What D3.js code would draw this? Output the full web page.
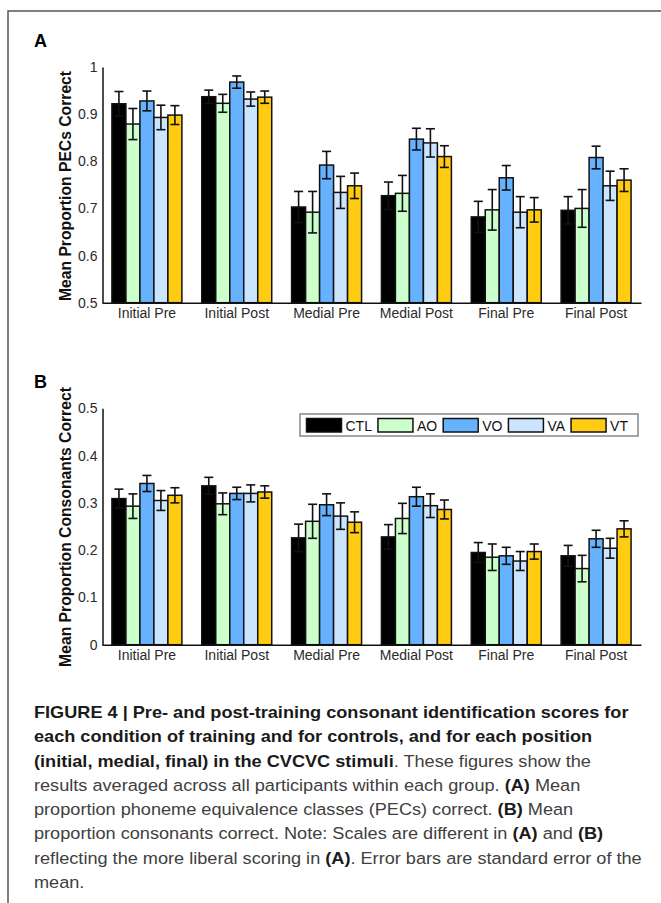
<!DOCTYPE html>
<html>
<head>
<meta charset="utf-8">
<script src="https://d3js.org/d3.v7.min.js"></script>
<style>
body{margin:0;background:#fff}
svg{display:block}
.tick text{fill:#2a2a2a}
</style>
</head>
<body>
<div id="fig"></div>
<script>
// values
var groups=["Initial Pre","Initial Post","Medial Pre","Medial Post","Final Pre","Final Post"]
var series=["CTL","AO","VO","VA","VT"]
var colors=["#000000","#ccffcc","#66b2ff","#cce5ff","#ffcc11"]

var pecMeans=[
    [0.922,0.879,0.928,0.893,0.898],
    [0.937,0.923,0.968,0.932,0.936],
    [0.703,0.692,0.792,0.734,0.748],
    [0.727,0.732,0.847,0.839,0.810],
    [0.682,0.697,0.765,0.692,0.697],
    [0.696,0.700,0.808,0.748,0.760]]
var pecErr=[
    [0.026,0.033,0.021,0.026,0.020],
    [0.014,0.019,0.013,0.015,0.013],
    [0.033,0.044,0.029,0.034,0.027],
    [0.029,0.038,0.023,0.030,0.023],
    [0.033,0.043,0.026,0.033,0.026],
    [0.029,0.040,0.024,0.031,0.024]]

var consMeans=[
    [0.309,0.293,0.341,0.305,0.316],
    [0.336,0.298,0.320,0.320,0.323],
    [0.226,0.261,0.296,0.272,0.259],
    [0.228,0.267,0.313,0.294,0.286],
    [0.195,0.185,0.188,0.177,0.197],
    [0.188,0.161,0.224,0.204,0.245]]
var consErr=[
    [0.020,0.026,0.017,0.021,0.016],
    [0.018,0.023,0.013,0.018,0.013],
    [0.029,0.036,0.023,0.028,0.022],
    [0.026,0.032,0.020,0.025,0.020],
    [0.021,0.028,0.018,0.020,0.016],
    [0.022,0.028,0.018,0.021,0.017]]

var pecTicks=[0.5,0.6,0.7,0.8,0.9,1]
var pecTickLabels=["0.5","0.6","0.7","0.8","0.9","1"]
var consTicks=[0,0.1,0.2,0.3,0.4,0.5]
var consTickLabels=["0","0.1","0.2","0.3","0.4","0.5"]

var caption=[
    [["FIGURE 4 | Pre- and post-training consonant identification scores for",1]],
    [["each condition of training and for controls, and for each position",1]],
    [["(initial, medial, final) in the CVCVC stimuli",1],[". These figures show the",0]],
    [["results averaged across all participants within each group. ",0],["(A)",1],[" Mean",0]],
    [["proportion phoneme equivalence classes (PECs) correct. ",0],["(B)",1],[" Mean",0]],
    [["proportion consonants correct. Note: Scales are different in ",0],["(A)",1],[" and ",0],["(B)",1]],
    [["reflecting the more liberal scoring in ",0],["(A)",1],[". Error bars are standard error of the",0]],
    [["mean.",0]]]

var font='"Liberation Sans", Arial, sans-serif'
var W=661, H=903

var svg=d3.select('#fig').append('svg')
    .attr('width',W)
    .attr('height',H)
    .style('font-family',font)

// frame lines
svg.append('path')
    .attr('d','M8,'+H+'V11H'+W)
    .attr('fill','none')
    .attr('stroke','#555')
    .attr('stroke-width',1.5)

function MakePanel(letter,top,bottom,domain,ticks,tickLabels,means,errs,title,titleY){
    var x=d3.scaleBand().domain(groups).range([102,641])
    var xs=d3.scaleBand().domain(series).range([0,x.bandwidth()]).paddingOuter(0.71)
    var y=d3.scaleLinear().domain(domain).range([bottom,top])

    svg.append('text')
	.attr('x',34)
	.attr('y',top-20)
	.attr('font-size',18)
	.attr('font-weight','bold')
	.text(letter)

    var g=svg.append('g')

    var rows=[]
    groups.forEach(function(grp,i){
	series.forEach(function(s,j){
	    rows.push({g:grp,s:s,v:means[i][j],e:errs[i][j],c:colors[j]})
	})
    })

    g.selectAll('rect.bar')
	.data(rows)
	.enter().append('rect')
	.attr('class','bar')
	.attr('x',function(d){return x(d.g)+xs(d.s)})
	.attr('width',xs.bandwidth())
	.attr('y',function(d){return y(d.v)})
	.attr('height',function(d){return y(domain[0])-y(d.v)})
	.attr('fill',function(d){return d.c})
	.attr('stroke','#111')
	.attr('stroke-width',1.5)

    var cap=4.5
    var eb=g.selectAll('g.err')
	.data(rows)
	.enter().append('g')
	.attr('class','err')
	.attr('stroke','#111')
	.attr('stroke-width',1.6)
    eb.append('line')
	.attr('x1',function(d){return x(d.g)+xs(d.s)+xs.bandwidth()/2})
	.attr('x2',function(d){return x(d.g)+xs(d.s)+xs.bandwidth()/2})
	.attr('y1',function(d){return y(d.v+d.e)})
	.attr('y2',function(d){return y(d.v-d.e)})
    eb.selectAll('line.cap')
	.data(function(d){return [d.v+d.e,d.v-d.e].map(function(v){return {d:d,v:v}})})
	.enter().append('line')
	.attr('class','cap')
	.attr('x1',function(c){return x(c.d.g)+xs(c.d.s)+xs.bandwidth()/2-cap})
	.attr('x2',function(c){return x(c.d.g)+xs(c.d.s)+xs.bandwidth()/2+cap})
	.attr('y1',function(c){return y(c.v)})
	.attr('y2',function(c){return y(c.v)})

    var ya=svg.append('g')
	.attr('transform','translate(102.5,0)')
	.call(d3.axisLeft(y).tickValues(ticks).tickSize(0).tickPadding(5)
	      .tickFormat(function(d,i){return tickLabels[i]}))
    ya.selectAll('text').attr('font-size',14).attr('font-family',font)
    ya.select('.domain').attr('stroke','#111').attr('stroke-width',1.5)

    var xa=svg.append('g')
	.attr('transform','translate(0,'+bottom+')')
	.call(d3.axisBottom(x).tickSize(0).tickPadding(5))
    xa.selectAll('text').attr('font-size',14).attr('font-family',font)
    xa.select('.domain').attr('stroke','#111').attr('stroke-width',1.5)

    svg.append('text')
	.attr('transform','translate(71,'+titleY+') rotate(-90)')
	.attr('text-anchor','middle')
	.attr('font-size',15.7)
	.attr('font-weight','bold')
	.attr('fill','#111')
	.text(title)
}

MakePanel('A',67,302.7,[0.5,1],pecTicks,pecTickLabels,pecMeans,pecErr,'Mean Proportion PECs Correct',186)
MakePanel('B',408.3,644.7,[0,0.5],consTicks,consTickLabels,consMeans,consErr,'Mean Proportion Consonants Correct',527)

// legend
var lg=svg.append('g')
lg.append('rect')
    .attr('x',300).attr('y',414).attr('width',338).attr('height',22)
    .attr('fill','#fff').attr('stroke','#888').attr('stroke-width',1.5)
var lx=306.5
series.forEach(function(s,j){
    lg.append('rect')
	.attr('x',lx).attr('y',418.5).attr('width',35).attr('height',13.5)
	.attr('fill',colors[j]).attr('stroke','#111').attr('stroke-width',1.5)
    var t=lg.append('text')
	.attr('x',lx+39).attr('y',430.5)
	.attr('font-size',14)
	.attr('fill','#111')
	.text(s)
    lx+=39+t.node().getComputedTextLength()+6
})

// caption
var cap=svg.append('g')
    .attr('transform','translate(34,0) scale(1.1,1)')
caption.forEach(function(line,i){
    var t=cap.append('text')
	.attr('x',0)
	.attr('y',718+i*24.3)
	.attr('font-size',16.5)
    line.forEach(function(seg){
	t.append('tspan')
	    .attr('font-weight',seg[1]?'bold':'normal')
	    .attr('fill',seg[1]?'#1a1a1a':'#404040')
	    .text(seg[0])
    })
})
</script>
</body>
</html>
